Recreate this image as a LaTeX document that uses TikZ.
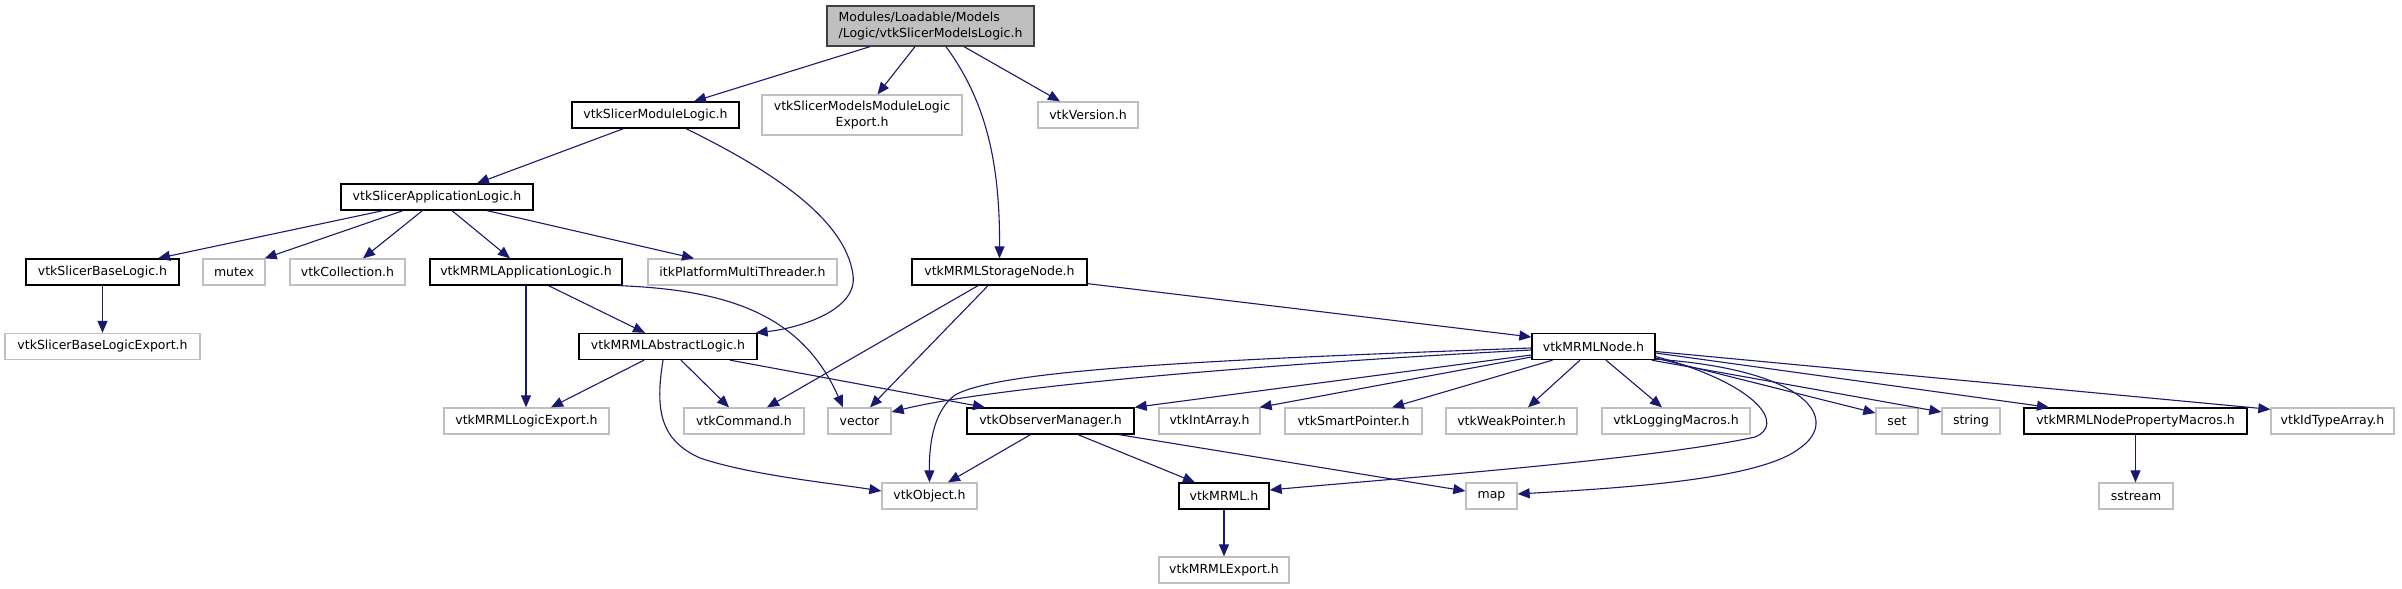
\documentclass[tikz,border=0pt]{standalone}
\usepackage{fontspec}
\setmainfont{DejaVu Sans}
\usetikzlibrary{arrows.meta}
\definecolor{edgec}{HTML}{191970}
\definecolor{lightb}{HTML}{BFBFBF}
\definecolor{topfill}{HTML}{BFBFBF}
\definecolor{topborder}{HTML}{404040}
\tikzset{
  box/.style={draw, rectangle, inner sep=0pt, minimum height=26pt, line width=1.3pt, fill=white,
    font=\fontsize{12.5}{15.3}\selectfont},
  dark/.style={box, draw=black},
  light/.style={box, draw=lightb},
  dep/.style={draw=edgec, line width=1.1pt, -{Triangle[length=12pt,width=10pt]}}
}
\begin{document}
\begin{tikzpicture}[x=1pt,y=-1pt]
\fill[white] (0,0) rectangle (2402,589);
\useasboundingbox (0,0) rectangle (2402,589);
% nodes
\node[dark, fill=topfill, draw=topborder, minimum width=207pt, minimum height=40pt, align=left] (top) at (930.5,26) {Modules/Loadable/Models\\/Logic/vtkSlicerModelsLogic.h};
\node[dark, minimum width=167pt] (sml) at (655.5,115) {vtkSlicerModuleLogic.h};
\node[light, minimum width=200pt, minimum height=40pt, align=center] (smmle) at (862,115) {vtkSlicerModelsModuleLogic\\Export.h};
\node[light, minimum width=100pt] (ver) at (1088,115) {vtkVersion.h};
\node[dark, minimum width=192pt] (sal) at (437,197) {vtkSlicerApplicationLogic.h};
\node[dark, minimum width=153pt] (sbl) at (102.5,272) {vtkSlicerBaseLogic.h};
\node[light, minimum width=62pt] (mutex) at (234,272) {mutex};
\node[light, minimum width=115pt] (coll) at (347.5,272) {vtkCollection.h};
\node[dark, minimum width=192pt] (mal) at (526,272) {vtkMRMLApplicationLogic.h};
\node[light, minimum width=189pt] (itk) at (742.5,272) {itkPlatformMultiThreader.h};
\node[dark, minimum width=175pt] (msn) at (999.5,272) {vtkMRMLStorageNode.h};
\node[light, minimum width=195pt] (sble) at (102.5,346.5) {vtkSlicerBaseLogicExport.h};
\node[dark, minimum width=178pt] (mabl) at (668,346.5) {vtkMRMLAbstractLogic.h};
\node[dark, minimum width=123pt] (mnode) at (1593.5,346.5) {vtkMRMLNode.h};
\node[light, minimum width=165pt] (mle) at (526.5,421) {vtkMRMLLogicExport.h};
\node[light, minimum width=120pt] (cmd) at (744,421) {vtkCommand.h};
\node[light, minimum width=63pt] (vector) at (859.5,421) {vector};
\node[dark, minimum width=167pt] (obs) at (1050.5,421) {vtkObserverManager.h};
\node[light, minimum width=101pt] (intarr) at (1209.5,421) {vtkIntArray.h};
\node[light, minimum width=137pt] (smartp) at (1353.5,421) {vtkSmartPointer.h};
\node[light, minimum width=131pt] (weakp) at (1511.5,421) {vtkWeakPointer.h};
\node[light, minimum width=148pt] (logm) at (1676,421) {vtkLoggingMacros.h};
\node[light, minimum width=42pt] (set) at (1897,421) {set};
\node[light, minimum width=58pt] (string) at (1971,421) {string};
\node[dark, minimum width=223pt] (nprop) at (2135.5,421) {vtkMRMLNodePropertyMacros.h};
\node[light, minimum width=123pt] (idtype) at (2332.5,421) {vtkIdTypeArray.h};
\node[light, minimum width=95pt] (obj) at (929.5,496) {vtkObject.h};
\node[dark, minimum width=90pt] (mrml) at (1224,496) {vtkMRML.h};
\node[light, minimum width=51pt] (map) at (1491.5,496) {map};
\node[light, minimum width=74pt] (sstream) at (2136,496) {sstream};
\node[light, minimum width=130pt] (mexp) at (1224,570) {vtkMRMLExport.h};
% edges from top
\draw[dep] ([xshift=-60.5pt]top.south) -- ([xshift=38.5pt]sml.north);
\draw[dep] ([xshift=-15.5pt]top.south) -- ([xshift=15.5pt]smmle.north);
\draw[dep] ([xshift=15.5pt]top.south) .. controls (985,100) and (1000,160) .. (msn.north);
\draw[dep] ([xshift=33.5pt]top.south) -- ([xshift=-28pt]ver.north);
% vtkSlicerModuleLogic
\draw[dep] ([xshift=-32pt]sml.south) -- ([xshift=40pt]sal.north);
\draw[dep] ([xshift=30.5pt]sml.south) .. controls (760,165) and (845,215) .. (853,275)
  .. controls (858,310) and (800,328) .. ([xshift=-2pt]mabl.north east);
% vtkSlicerApplicationLogic
\draw[dep] ([xshift=-54pt]sal.south) -- ([xshift=55.5pt]sbl.north);
\draw[dep] ([xshift=-34pt]sal.south) -- ([xshift=-1pt]mutex.north east);
\draw[dep] ([xshift=-14.6pt]sal.south) -- ([xshift=15.5pt]coll.north);
\draw[dep] ([xshift=15pt]sal.south) -- ([xshift=-16pt]mal.north);
\draw[dep] ([xshift=50pt]sal.south) -- ([xshift=-48.5pt]itk.north);
% vtkSlicerBaseLogic
\draw[dep] (sbl.south) -- (sble.north);
% vtkMRMLApplicationLogic
\draw[dep] (mal.south) -- (mal.south |- mle.north);
\draw[dep] ([xshift=22.5pt]mal.south) -- ([xshift=-23pt]mabl.north);
\draw[dep] ([xshift=94pt]mal.south) .. controls (720,290) and (800,310) .. ([xshift=-16.5pt]vector.north);
% vtkMRMLAbstractLogic
\draw[dep] ([xshift=-24pt]mabl.south) -- ([xshift=24.5pt]mle.north);
\draw[dep] ([xshift=13pt]mabl.south) -- ([xshift=-15pt]cmd.north);
\draw[dep] ([xshift=62pt]mabl.south) -- ([xshift=-65.5pt]obs.north);
\draw[dep] ([xshift=-5pt]mabl.south) .. controls (655,410) and (660,440) .. (700,458)
  .. controls (750,475) and (830,483) .. ([yshift=5pt]obj.west);
% vtkMRMLStorageNode
\draw[dep] ([xshift=-21.5pt]msn.south) -- ([xshift=23pt]cmd.north);
\draw[dep] ([xshift=-11.5pt]msn.south) -- ([xshift=10.5pt]vector.north);
\draw[dep] ([yshift=2pt]msn.south east) -- ([yshift=9.5pt]mnode.west);
% vtkMRMLNode
\draw[dep] ([yshift=-3.5pt]mnode.west) .. controls (1300,362) and (1000,385) .. ([yshift=9pt]vector.east);
\draw[dep] ([yshift=-1.5pt]mnode.west) .. controls (1200,360) and (1000,370) .. (955,395)
  .. controls (935,410) and (929,440) .. (obj.north);
\draw[dep] ([yshift=-8.5pt]mnode.west) -- (obs.north east);
\draw[dep] ([yshift=-10.5pt]mnode.west) -- ([xshift=-1pt]intarr.north east);
\draw[dep] ([xshift=-41pt]mnode.south) -- ([xshift=38.5pt]smartp.north);
\draw[dep] ([xshift=-13.5pt]mnode.south) -- ([xshift=16.5pt]weakp.north);
\draw[dep] ([xshift=12.5pt]mnode.south) -- ([xshift=-14pt]logm.north);
\draw[dep] ([yshift=-11.5pt]mnode.east) -- ([yshift=8pt]set.west);
\draw[dep] ([xshift=-4pt]mnode.south east) -- ([yshift=9pt]string.west);
\draw[dep] ([yshift=-6.5pt]mnode.east) -- ([xshift=-86.5pt]nprop.north);
\draw[dep] ([yshift=-5pt]mnode.east) -- ([yshift=-2pt]idtype.north west);
\draw[dep] ([yshift=-10pt]mnode.east) .. controls (1760,385) and (1785,425) .. (1755,437)
  .. controls (1650,460) and (1400,478) .. ([yshift=6pt]mrml.east);
\draw[dep] ([yshift=1pt]mnode.south east) .. controls (1810,370) and (1840,420) .. (1800,448)
  .. controls (1760,480) and (1620,488) .. ([yshift=2pt]map.east);
% vtkObserverManager
\draw[dep] ([xshift=-20pt]obs.south) -- ([xshift=18.5pt]obj.north);
\draw[dep] ([xshift=27.5pt]obs.south) -- ([xshift=-29pt]mrml.north);
\draw[dep] ([xshift=68.5pt]obs.south) -- ([yshift=5pt]map.west);
% others
\draw[dep] (mrml.south) -- (mexp.north);
\draw[dep] (nprop.south) -- (nprop.south |- sstream.north);
\end{tikzpicture}
\end{document}
